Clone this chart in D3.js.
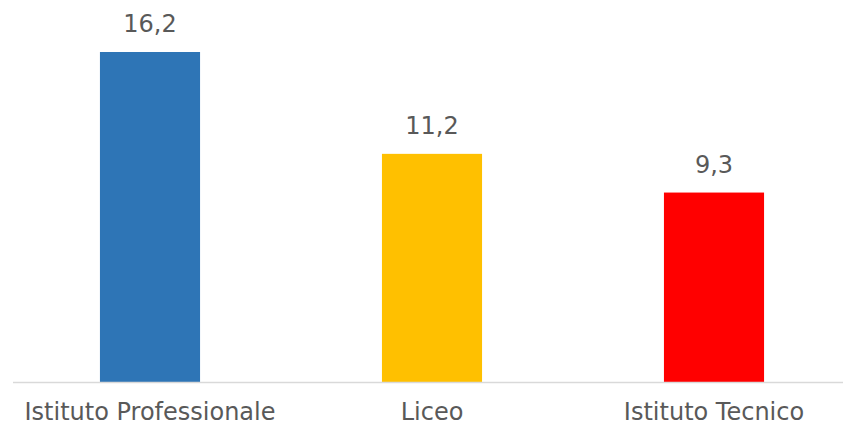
<!DOCTYPE html>
<html>
<head>
<meta charset="utf-8">
<script src="https://cdn.jsdelivr.net/npm/d3@7"></script>
<style>
  body { margin: 0; background: #fff; }
  text { font-family: "DejaVu Sans", sans-serif; fill: #595959; }
</style>
</head>
<body>
<svg width="843" height="426"></svg>
<script>
// data
var categories = ["Istituto Professionale", "Liceo", "Istituto Tecnico"];
var values = [16.2, 11.2, 9.3];
var colors = ["#2E75B6", "#FFC000", "#FF0000"];

var svg = d3.select("svg"),
    width = +svg.attr("width"),
    height = +svg.attr("height");

var baseline = 382;

var x = d3.scaleBand()
    .domain(categories)
    .range([9, 855])
    .paddingInner(0.645)
    .paddingOuter(0.3225);

var y = d3.scaleLinear()
    .domain([0, 16.2])
    .range([baseline, 52]);

// bars
svg.append("g")
    .selectAll("rect")
    .data(values)
    .enter()
    .append("rect")
    .attr("x", function (d, i) { return x(categories[i]); })
    .attr("y", function (d) { return y(d); })
    .attr("width", x.bandwidth())
    .attr("height", function (d) { return baseline - y(d); })
    .attr("fill", function (d, i) { return colors[i]; });

// axis line
svg.append("line")
    .attr("x1", 13)
    .attr("x2", 843)
    .attr("y1", baseline + 0.5)
    .attr("y2", baseline + 0.5)
    .attr("stroke", "#d9d9d9")
    .attr("stroke-width", 1.5);

// value labels
svg.append("g")
    .selectAll("text")
    .data(values)
    .enter()
    .append("text")
    .attr("x", function (d, i) { return x(categories[i]) + x.bandwidth() / 2; })
    .attr("y", function (d) { return y(d) - 20; })
    .attr("text-anchor", "middle")
    .style("font-size", "24px")
    .text(function (d) { return d3.format(".1f")(d).replace(".", ","); });

// category labels
svg.append("g")
    .selectAll("text")
    .data(categories)
    .enter()
    .append("text")
    .attr("x", function (d) { return x(d) + x.bandwidth() / 2; })
    .attr("y", 420)
    .attr("text-anchor", "middle")
    .style("font-size", "24px")
    .text(function (d) { return d; });
</script>
</body>
</html>
